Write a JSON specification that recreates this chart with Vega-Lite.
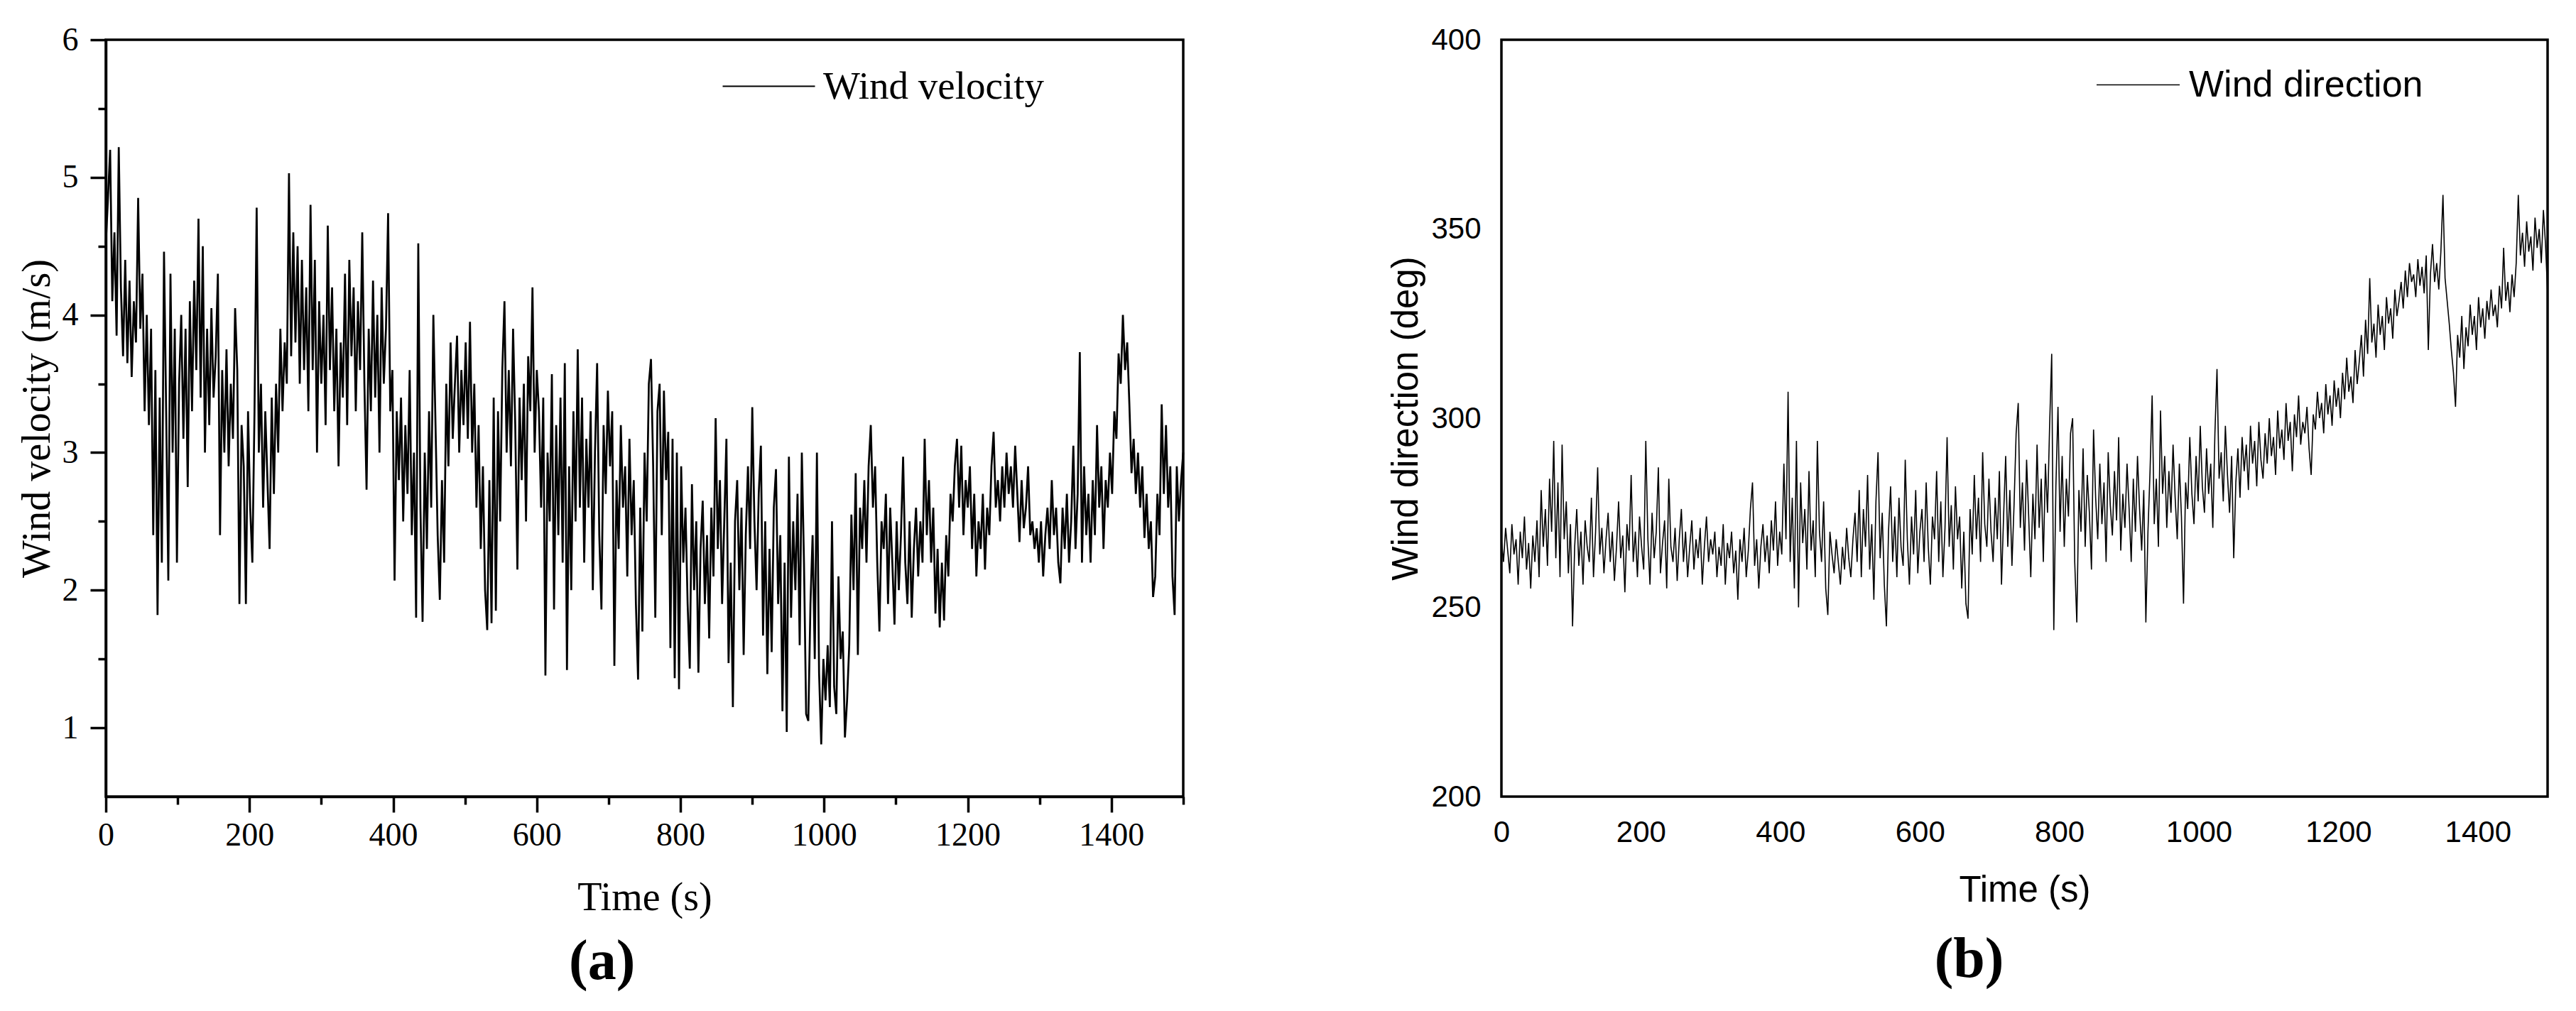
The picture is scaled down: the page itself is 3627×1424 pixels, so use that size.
{
"$schema": "https://vega.github.io/schema/vega-lite/v6.json",
"background": "white",
"padding": {"left": 22, "top": 31, "right": 0, "bottom": 0},
"spacing": 279,
"config": {"view": {"stroke": "black", "strokeWidth": 3.5}},
"datasets": {
"vel": [
{"t":0,"v":4.52},{"t":3,"v":4.85},{"t":6,"v":5.2},{"t":9,"v":4.1},{"t":12,"v":4.6},{"t":15,"v":3.85},{"t":18,"v":5.22},{"t":21,"v":4.2},{"t":24,"v":3.7},{"t":27,"v":4.4},{"t":30,"v":3.65},{"t":33,"v":4.25},{"t":36,"v":3.55},{"t":39,"v":4.1},{"t":42,"v":3.8},{"t":45,"v":4.85},{"t":48,"v":3.9},
{"t":51,"v":4.3},{"t":54,"v":3.3},{"t":57,"v":4.0},{"t":60,"v":3.2},{"t":63,"v":3.9},{"t":66,"v":2.4},{"t":69,"v":3.6},{"t":72,"v":1.82},{"t":75,"v":3.4},{"t":78,"v":2.2},{"t":81,"v":4.46},{"t":84,"v":3.3},{"t":87,"v":2.07},{"t":90,"v":4.3},{"t":93,"v":3.0},{"t":96,"v":3.9},{"t":99,"v":2.2},
{"t":102,"v":3.5},{"t":105,"v":4.0},{"t":108,"v":3.1},{"t":111,"v":3.9},{"t":114,"v":2.75},{"t":117,"v":4.1},{"t":120,"v":3.3},{"t":123,"v":4.25},{"t":126,"v":3.6},{"t":129,"v":4.7},{"t":132,"v":3.4},{"t":135,"v":4.5},{"t":138,"v":3.0},{"t":141,"v":3.9},{"t":144,"v":3.2},{"t":147,"v":4.05},{"t":150,"v":3.4},
{"t":153,"v":3.7},{"t":156,"v":4.3},{"t":159,"v":2.4},{"t":162,"v":3.6},{"t":165,"v":3.0},{"t":168,"v":3.75},{"t":171,"v":2.9},{"t":174,"v":3.5},{"t":177,"v":3.1},{"t":180,"v":4.05},{"t":183,"v":3.6},{"t":186,"v":1.9},{"t":189,"v":3.2},{"t":192,"v":2.9},{"t":195,"v":1.9},{"t":198,"v":3.3},{"t":201,"v":2.6},
{"t":204,"v":2.2},{"t":207,"v":3.3},{"t":210,"v":4.78},{"t":213,"v":3.0},{"t":216,"v":3.5},{"t":219,"v":2.6},{"t":222,"v":3.3},{"t":225,"v":2.8},{"t":228,"v":2.3},{"t":231,"v":3.4},{"t":234,"v":2.7},{"t":237,"v":3.5},{"t":240,"v":3.0},{"t":243,"v":3.9},{"t":246,"v":3.3},{"t":249,"v":3.8},{"t":252,"v":3.5},
{"t":255,"v":5.03},{"t":258,"v":3.7},{"t":261,"v":4.6},{"t":264,"v":3.8},{"t":267,"v":4.5},{"t":270,"v":3.5},{"t":273,"v":4.4},{"t":276,"v":3.6},{"t":279,"v":4.2},{"t":282,"v":3.3},{"t":285,"v":4.8},{"t":288,"v":3.6},{"t":291,"v":4.4},{"t":294,"v":3.0},{"t":297,"v":4.1},{"t":300,"v":3.5},{"t":303,"v":4.0},
{"t":306,"v":3.2},{"t":309,"v":4.65},{"t":312,"v":3.6},{"t":315,"v":4.2},{"t":318,"v":3.3},{"t":321,"v":3.9},{"t":324,"v":2.9},{"t":327,"v":3.8},{"t":330,"v":3.4},{"t":333,"v":4.3},{"t":336,"v":3.2},{"t":339,"v":4.4},{"t":342,"v":3.7},{"t":345,"v":4.2},{"t":348,"v":3.3},{"t":351,"v":4.1},{"t":354,"v":3.6},
{"t":357,"v":4.6},{"t":360,"v":3.5},{"t":363,"v":2.73},{"t":366,"v":3.9},{"t":369,"v":3.3},{"t":372,"v":4.25},{"t":375,"v":3.4},{"t":378,"v":4.0},{"t":381,"v":3.0},{"t":384,"v":4.2},{"t":387,"v":3.5},{"t":390,"v":3.9},{"t":393,"v":4.74},{"t":396,"v":3.3},{"t":399,"v":3.6},{"t":402,"v":2.07},{"t":405,"v":3.3},
{"t":408,"v":2.8},{"t":411,"v":3.4},{"t":414,"v":2.5},{"t":417,"v":3.2},{"t":420,"v":2.7},{"t":423,"v":3.6},{"t":426,"v":2.4},{"t":429,"v":3.0},{"t":432,"v":1.8},{"t":435,"v":4.52},{"t":438,"v":2.6},{"t":441,"v":1.77},{"t":444,"v":3.0},{"t":447,"v":2.3},{"t":450,"v":3.3},{"t":453,"v":2.6},{"t":456,"v":4.0},
{"t":459,"v":3.2},{"t":462,"v":2.4},{"t":465,"v":1.93},{"t":468,"v":2.8},{"t":471,"v":2.2},{"t":474,"v":3.5},{"t":477,"v":2.9},{"t":480,"v":3.8},{"t":483,"v":3.1},{"t":486,"v":3.5},{"t":489,"v":3.85},{"t":492,"v":3.0},{"t":495,"v":3.6},{"t":498,"v":3.2},{"t":501,"v":3.8},{"t":504,"v":3.1},{"t":507,"v":3.95},
{"t":510,"v":3.0},{"t":513,"v":3.5},{"t":516,"v":2.6},{"t":519,"v":3.2},{"t":522,"v":2.3},{"t":525,"v":2.9},{"t":528,"v":2.0},{"t":531,"v":1.71},{"t":534,"v":2.8},{"t":537,"v":1.76},{"t":540,"v":3.4},{"t":543,"v":1.85},{"t":546,"v":3.3},{"t":549,"v":2.5},{"t":552,"v":3.6},{"t":555,"v":4.1},{"t":558,"v":3.0},
{"t":561,"v":3.6},{"t":564,"v":2.9},{"t":567,"v":3.9},{"t":570,"v":3.2},{"t":573,"v":2.15},{"t":576,"v":3.4},{"t":579,"v":2.8},{"t":582,"v":3.5},{"t":585,"v":2.5},{"t":588,"v":3.7},{"t":591,"v":3.3},{"t":594,"v":4.2},{"t":597,"v":3.0},{"t":600,"v":3.6},{"t":603,"v":3.3},{"t":606,"v":2.6},{"t":609,"v":3.4},
{"t":612,"v":1.38},{"t":615,"v":3.0},{"t":618,"v":2.5},{"t":621,"v":3.57},{"t":624,"v":1.86},{"t":627,"v":3.2},{"t":630,"v":2.4},{"t":633,"v":3.4},{"t":636,"v":2.2},{"t":639,"v":3.65},{"t":642,"v":1.42},{"t":645,"v":2.9},{"t":648,"v":2.0},{"t":651,"v":3.3},{"t":654,"v":2.5},{"t":657,"v":3.75},{"t":660,"v":2.6},
{"t":663,"v":3.4},{"t":666,"v":2.2},{"t":669,"v":3.1},{"t":672,"v":2.6},{"t":675,"v":3.3},{"t":678,"v":2.0},{"t":681,"v":3.0},{"t":684,"v":3.65},{"t":687,"v":2.4},{"t":690,"v":1.86},{"t":693,"v":3.2},{"t":696,"v":2.7},{"t":699,"v":3.45},{"t":702,"v":2.9},{"t":705,"v":3.3},{"t":708,"v":1.45},{"t":711,"v":2.8},
{"t":714,"v":2.3},{"t":717,"v":3.2},{"t":720,"v":2.6},{"t":723,"v":2.9},{"t":726,"v":2.1},{"t":729,"v":3.1},{"t":732,"v":2.4},{"t":735,"v":2.8},{"t":738,"v":1.9},{"t":741,"v":1.35},{"t":744,"v":2.6},{"t":747,"v":1.7},{"t":750,"v":3.0},{"t":753,"v":2.5},{"t":756,"v":3.5},{"t":759,"v":3.68},{"t":762,"v":2.9},
{"t":765,"v":1.8},{"t":768,"v":3.3},{"t":771,"v":3.5},{"t":774,"v":2.4},{"t":777,"v":3.45},{"t":780,"v":2.8},{"t":783,"v":3.15},{"t":786,"v":1.58},{"t":789,"v":3.1},{"t":792,"v":1.36},{"t":795,"v":3.0},{"t":798,"v":1.28},{"t":801,"v":2.9},{"t":804,"v":2.2},{"t":807,"v":2.6},{"t":810,"v":1.9},{"t":813,"v":1.43},{"t":816,"v":2.77},{"t":819,"v":2.0},{"t":822,"v":2.5},{"t":825,"v":1.4},{"t":828,"v":2.3},{"t":831,"v":2.65},{"t":834,"v":1.9},{"t":837,"v":2.4},{"t":840,"v":1.65},{"t":843,"v":2.6},{"t":846,"v":2.1},{"t":849,"v":3.25},{"t":852,"v":2.3},{"t":855,"v":2.8},{"t":858,"v":1.9},{"t":861,"v":2.5},{"t":864,"v":3.1},{"t":867,"v":1.47},{"t":870,"v":2.2},{"t":873,"v":1.15},{"t":876,"v":2.5},{"t":879,"v":2.8},{"t":882,"v":2.0},{"t":885,"v":2.6},{"t":888,"v":1.53},{"t":891,"v":2.4},{"t":894,"v":2.9},{"t":897,"v":2.3},{"t":900,"v":3.33},
{"t":903,"v":2.5},{"t":906,"v":2.0},{"t":909,"v":2.7},{"t":912,"v":3.05},{"t":915,"v":1.67},{"t":918,"v":2.5},{"t":921,"v":1.39},{"t":924,"v":2.3},{"t":927,"v":1.55},{"t":930,"v":2.6},{"t":933,"v":2.88},{"t":936,"v":1.9},{"t":939,"v":2.4},{"t":942,"v":1.12},{"t":945,"v":2.2},{"t":948,"v":0.97},{"t":951,"v":2.97},{"t":954,"v":1.8},{"t":957,"v":2.5},{"t":960,"v":2.0},{"t":963,"v":2.7},{"t":966,"v":1.6},{"t":969,"v":3.0},{"t":972,"v":2.2},{"t":975,"v":1.1},{"t":978,"v":1.05},{"t":981,"v":1.9},{"t":984,"v":2.4},{"t":987,"v":1.5},{"t":990,"v":3.0},{"t":993,"v":1.4},{"t":996,"v":0.88},{"t":999,"v":1.5},{"t":1002,"v":1.2},{"t":1005,"v":1.6},{"t":1008,"v":1.15},{"t":1011,"v":2.5},{"t":1014,"v":1.3},{"t":1017,"v":1.1},{"t":1020,"v":2.1},{"t":1023,"v":1.5},{"t":1026,"v":1.7},{"t":1029,"v":0.93},{"t":1032,"v":1.2},{"t":1035,"v":1.6},{"t":1038,"v":2.55},{"t":1041,"v":2.0},{"t":1044,"v":2.85},{"t":1047,"v":1.53},{"t":1050,"v":2.6},
{"t":1053,"v":2.3},{"t":1056,"v":2.8},{"t":1059,"v":2.2},{"t":1062,"v":2.9},{"t":1065,"v":3.2},{"t":1068,"v":2.6},{"t":1071,"v":2.9},{"t":1074,"v":2.2},{"t":1077,"v":1.7},{"t":1080,"v":2.5},{"t":1083,"v":2.3},{"t":1086,"v":2.7},{"t":1089,"v":1.9},{"t":1092,"v":2.6},{"t":1095,"v":2.2},{"t":1098,"v":1.75},{"t":1101,"v":2.5},{"t":1104,"v":2.0},{"t":1107,"v":2.4},{"t":1110,"v":2.97},{"t":1113,"v":2.2},{"t":1116,"v":1.9},{"t":1119,"v":2.5},{"t":1122,"v":1.8},{"t":1125,"v":2.3},{"t":1128,"v":2.6},{"t":1131,"v":2.1},{"t":1134,"v":2.5},{"t":1137,"v":2.2},{"t":1140,"v":3.1},{"t":1143,"v":2.4},{"t":1146,"v":2.8},{"t":1149,"v":2.2},{"t":1152,"v":2.6},{"t":1155,"v":1.83},{"t":1158,"v":2.3},{"t":1161,"v":1.73},{"t":1164,"v":2.2},{"t":1167,"v":1.78},{"t":1170,"v":2.4},{"t":1173,"v":2.1},{"t":1176,"v":2.7},{"t":1179,"v":2.5},{"t":1182,"v":2.9},{"t":1185,"v":3.1},{"t":1188,"v":2.6},{"t":1191,"v":3.05},{"t":1194,"v":2.4},{"t":1197,"v":2.8},{"t":1200,"v":2.6},
{"t":1203,"v":2.9},{"t":1206,"v":2.3},{"t":1209,"v":2.7},{"t":1212,"v":2.1},{"t":1215,"v":2.5},{"t":1218,"v":2.3},{"t":1221,"v":2.7},{"t":1224,"v":2.15},{"t":1227,"v":2.6},{"t":1230,"v":2.4},{"t":1233,"v":2.9},{"t":1236,"v":3.15},{"t":1239,"v":2.6},{"t":1242,"v":2.8},{"t":1245,"v":2.5},{"t":1248,"v":2.9},{"t":1251,"v":2.6},{"t":1254,"v":3.0},{"t":1257,"v":2.7},{"t":1260,"v":2.9},{"t":1263,"v":2.6},{"t":1266,"v":3.05},{"t":1269,"v":2.7},{"t":1272,"v":2.35},{"t":1275,"v":2.8},{"t":1278,"v":2.45},{"t":1281,"v":2.6},{"t":1284,"v":2.9},{"t":1287,"v":2.4},{"t":1290,"v":2.5},{"t":1293,"v":2.3},{"t":1296,"v":2.45},{"t":1299,"v":2.2},{"t":1302,"v":2.5},{"t":1305,"v":2.1},{"t":1308,"v":2.4},{"t":1311,"v":2.6},{"t":1314,"v":2.3},{"t":1317,"v":2.8},{"t":1320,"v":2.4},{"t":1323,"v":2.6},{"t":1326,"v":2.2},{"t":1329,"v":2.05},{"t":1332,"v":2.6},{"t":1335,"v":2.3},{"t":1338,"v":2.7},{"t":1341,"v":2.2},{"t":1344,"v":2.5},{"t":1347,"v":3.05},{"t":1350,"v":2.3},
{"t":1353,"v":2.7},{"t":1356,"v":3.73},{"t":1359,"v":2.2},{"t":1362,"v":2.9},{"t":1365,"v":2.4},{"t":1368,"v":2.7},{"t":1371,"v":2.2},{"t":1374,"v":2.8},{"t":1377,"v":2.4},{"t":1380,"v":3.2},{"t":1383,"v":2.6},{"t":1386,"v":2.9},{"t":1389,"v":2.3},{"t":1392,"v":2.8},{"t":1395,"v":2.6},{"t":1398,"v":3.0},{"t":1401,"v":2.7},{"t":1404,"v":3.3},{"t":1407,"v":3.1},{"t":1410,"v":3.72},{"t":1413,"v":3.5},{"t":1416,"v":4.0},{"t":1419,"v":3.6},{"t":1422,"v":3.8},{"t":1425,"v":3.35},{"t":1428,"v":2.85},{"t":1431,"v":3.1},{"t":1434,"v":2.7},{"t":1437,"v":3.0},{"t":1440,"v":2.6},{"t":1443,"v":2.9},{"t":1446,"v":2.38},{"t":1449,"v":2.7},{"t":1452,"v":2.3},{"t":1455,"v":2.5},{"t":1458,"v":1.95},{"t":1461,"v":2.1},{"t":1464,"v":2.7},{"t":1467,"v":2.4},{"t":1470,"v":3.35},{"t":1473,"v":2.7},{"t":1476,"v":3.2},{"t":1479,"v":2.6},{"t":1482,"v":2.9},{"t":1485,"v":2.1},{"t":1488,"v":1.82},{"t":1491,"v":2.9},{"t":1494,"v":2.5},{"t":1497,"v":2.8},{"t":1500,"v":3.0}
],
"dir": [
{"t":0,"d":268},{"t":3,"d":262},{"t":6,"d":271},{"t":9,"d":265},{"t":12,"d":259},{"t":15,"d":272},{"t":18,"d":264},{"t":21,"d":268},{"t":24,"d":256},{"t":27,"d":270},{"t":30,"d":263},{"t":33,"d":274},{"t":36,"d":260},{"t":39,"d":267},{"t":42,"d":255},{"t":45,"d":269},{"t":48,"d":262},{"t":51,"d":273},{"t":54,"d":258},{"t":57,"d":281},{"t":60,"d":266},{"t":63,"d":276},{"t":66,"d":261},{"t":69,"d":284},{"t":72,"d":270},{"t":75,"d":294},{"t":78,"d":263},{"t":81,"d":283},{"t":84,"d":258},{"t":87,"d":293},{"t":90,"d":268},{"t":93,"d":278},{"t":96,"d":259},{"t":99,"d":272},{"t":102,"d":245},{"t":105,"d":266},{"t":108,"d":276},{"t":111,"d":261},{"t":114,"d":270},{"t":117,"d":256},{"t":120,"d":273},{"t":123,"d":266},{"t":126,"d":262},{"t":129,"d":279},{"t":132,"d":258},{"t":135,"d":270},{"t":138,"d":287},{"t":141,"d":264},{"t":144,"d":271},{"t":147,"d":259},{"t":150,"d":268},
{"t":153,"d":275},{"t":156,"d":262},{"t":159,"d":270},{"t":162,"d":257},{"t":165,"d":266},{"t":168,"d":278},{"t":171,"d":263},{"t":174,"d":269},{"t":177,"d":254},{"t":180,"d":272},{"t":183,"d":265},{"t":186,"d":285},{"t":189,"d":262},{"t":192,"d":270},{"t":195,"d":258},{"t":198,"d":274},{"t":201,"d":266},{"t":204,"d":260},{"t":207,"d":294},{"t":210,"d":268},{"t":213,"d":256},{"t":216,"d":275},{"t":219,"d":263},{"t":222,"d":270},{"t":225,"d":287},{"t":228,"d":259},{"t":231,"d":267},{"t":234,"d":273},{"t":237,"d":255},{"t":240,"d":284},{"t":243,"d":266},{"t":246,"d":262},{"t":249,"d":271},{"t":252,"d":257},{"t":255,"d":268},{"t":258,"d":276},{"t":261,"d":262},{"t":264,"d":270},{"t":267,"d":258},{"t":270,"d":266},{"t":273,"d":273},{"t":276,"d":260},{"t":279,"d":268},{"t":282,"d":263},{"t":285,"d":271},{"t":288,"d":256},{"t":291,"d":266},{"t":294,"d":274},{"t":297,"d":262},{"t":300,"d":268},
{"t":303,"d":264},{"t":306,"d":270},{"t":309,"d":258},{"t":312,"d":266},{"t":315,"d":261},{"t":318,"d":272},{"t":321,"d":256},{"t":324,"d":267},{"t":327,"d":263},{"t":330,"d":270},{"t":333,"d":259},{"t":336,"d":265},{"t":339,"d":252},{"t":342,"d":268},{"t":345,"d":262},{"t":348,"d":271},{"t":351,"d":258},{"t":354,"d":265},{"t":357,"d":276},{"t":360,"d":283},{"t":363,"d":261},{"t":366,"d":268},{"t":369,"d":255},{"t":372,"d":266},{"t":375,"d":272},{"t":378,"d":262},{"t":381,"d":269},{"t":384,"d":259},{"t":387,"d":273},{"t":390,"d":265},{"t":393,"d":278},{"t":396,"d":261},{"t":399,"d":270},{"t":402,"d":264},{"t":405,"d":288},{"t":408,"d":268},{"t":411,"d":307},{"t":414,"d":262},{"t":417,"d":279},{"t":420,"d":255},{"t":423,"d":294},{"t":426,"d":250},{"t":429,"d":283},{"t":432,"d":267},{"t":435,"d":276},{"t":438,"d":260},{"t":441,"d":286},{"t":444,"d":265},{"t":447,"d":273},{"t":450,"d":258},
{"t":453,"d":294},{"t":456,"d":270},{"t":459,"d":262},{"t":462,"d":278},{"t":465,"d":255},{"t":468,"d":248},{"t":471,"d":270},{"t":474,"d":264},{"t":477,"d":259},{"t":480,"d":268},{"t":483,"d":262},{"t":486,"d":256},{"t":489,"d":266},{"t":492,"d":260},{"t":495,"d":271},{"t":498,"d":263},{"t":501,"d":258},{"t":504,"d":268},{"t":507,"d":275},{"t":510,"d":262},{"t":513,"d":281},{"t":516,"d":258},{"t":519,"d":276},{"t":522,"d":266},{"t":525,"d":285},{"t":528,"d":260},{"t":531,"d":272},{"t":534,"d":252},{"t":537,"d":278},{"t":540,"d":291},{"t":543,"d":263},{"t":546,"d":275},{"t":549,"d":256},{"t":552,"d":245},{"t":555,"d":270},{"t":558,"d":282},{"t":561,"d":262},{"t":564,"d":274},{"t":567,"d":258},{"t":570,"d":279},{"t":573,"d":266},{"t":576,"d":261},{"t":579,"d":289},{"t":582,"d":268},{"t":585,"d":256},{"t":588,"d":274},{"t":591,"d":264},{"t":594,"d":281},{"t":597,"d":259},{"t":600,"d":270},
{"t":603,"d":276},{"t":606,"d":262},{"t":609,"d":283},{"t":612,"d":266},{"t":615,"d":256},{"t":618,"d":274},{"t":621,"d":268},{"t":624,"d":286},{"t":627,"d":262},{"t":630,"d":278},{"t":633,"d":258},{"t":636,"d":271},{"t":639,"d":295},{"t":642,"d":266},{"t":645,"d":277},{"t":648,"d":260},{"t":651,"d":282},{"t":654,"d":268},{"t":657,"d":274},{"t":660,"d":255},{"t":663,"d":270},{"t":666,"d":251},{"t":669,"d":247},{"t":672,"d":276},{"t":675,"d":264},{"t":678,"d":285},{"t":681,"d":268},{"t":684,"d":279},{"t":687,"d":262},{"t":690,"d":291},{"t":693,"d":272},{"t":696,"d":266},{"t":699,"d":284},{"t":702,"d":270},{"t":705,"d":262},{"t":708,"d":279},{"t":711,"d":268},{"t":714,"d":286},{"t":717,"d":256},{"t":720,"d":274},{"t":723,"d":290},{"t":726,"d":266},{"t":729,"d":281},{"t":732,"d":261},{"t":735,"d":277},{"t":738,"d":296},{"t":741,"d":304},{"t":744,"d":271},{"t":747,"d":283},{"t":750,"d":265},
{"t":753,"d":289},{"t":756,"d":274},{"t":759,"d":258},{"t":762,"d":280},{"t":765,"d":268},{"t":768,"d":293},{"t":771,"d":271},{"t":774,"d":284},{"t":777,"d":262},{"t":780,"d":288},{"t":783,"d":275},{"t":786,"d":298},{"t":789,"d":317},{"t":792,"d":244},{"t":795,"d":282},{"t":798,"d":303},{"t":801,"d":270},{"t":804,"d":290},{"t":807,"d":266},{"t":810,"d":284},{"t":813,"d":274},{"t":816,"d":296},{"t":819,"d":300},{"t":822,"d":262},{"t":825,"d":246},{"t":828,"d":281},{"t":831,"d":270},{"t":834,"d":292},{"t":837,"d":266},{"t":840,"d":285},{"t":843,"d":275},{"t":846,"d":260},{"t":849,"d":297},{"t":852,"d":279},{"t":855,"d":268},{"t":858,"d":288},{"t":861,"d":272},{"t":864,"d":283},{"t":867,"d":262},{"t":870,"d":291},{"t":873,"d":277},{"t":876,"d":269},{"t":879,"d":286},{"t":882,"d":273},{"t":885,"d":295},{"t":888,"d":265},{"t":891,"d":280},{"t":894,"d":271},{"t":897,"d":288},{"t":900,"d":276},
{"t":903,"d":262},{"t":906,"d":284},{"t":909,"d":270},{"t":912,"d":290},{"t":915,"d":276},{"t":918,"d":265},{"t":921,"d":281},{"t":924,"d":246},{"t":927,"d":270},{"t":930,"d":286},{"t":933,"d":306},{"t":936,"d":272},{"t":939,"d":284},{"t":942,"d":266},{"t":945,"d":302},{"t":948,"d":280},{"t":951,"d":290},{"t":954,"d":271},{"t":957,"d":286},{"t":960,"d":275},{"t":963,"d":293},{"t":966,"d":279},{"t":969,"d":268},{"t":972,"d":288},{"t":975,"d":274},{"t":978,"d":251},{"t":981,"d":283},{"t":984,"d":276},{"t":987,"d":295},{"t":990,"d":280},{"t":993,"d":272},{"t":996,"d":290},{"t":999,"d":278},{"t":1002,"d":298},{"t":1005,"d":282},{"t":1008,"d":275},{"t":1011,"d":292},{"t":1014,"d":280},{"t":1017,"d":288},{"t":1020,"d":271},{"t":1023,"d":296},{"t":1026,"d":313},{"t":1029,"d":284},{"t":1032,"d":291},{"t":1035,"d":278},{"t":1038,"d":298},{"t":1041,"d":285},{"t":1044,"d":275},{"t":1047,"d":290},{"t":1050,"d":263},
{"t":1053,"d":283},{"t":1056,"d":292},{"t":1059,"d":279},{"t":1062,"d":295},{"t":1065,"d":286},{"t":1068,"d":293},{"t":1071,"d":281},{"t":1074,"d":298},{"t":1077,"d":288},{"t":1080,"d":294},{"t":1083,"d":282},{"t":1086,"d":299},{"t":1089,"d":289},{"t":1092,"d":284},{"t":1095,"d":296},{"t":1098,"d":288},{"t":1101,"d":300},{"t":1104,"d":290},{"t":1107,"d":295},{"t":1110,"d":285},{"t":1113,"d":302},{"t":1116,"d":292},{"t":1119,"d":297},{"t":1122,"d":289},{"t":1125,"d":304},{"t":1128,"d":294},{"t":1131,"d":299},{"t":1134,"d":286},{"t":1137,"d":301},{"t":1140,"d":295},{"t":1143,"d":306},{"t":1146,"d":293},{"t":1149,"d":299},{"t":1152,"d":296},{"t":1155,"d":303},{"t":1158,"d":292},{"t":1161,"d":285},{"t":1164,"d":301},{"t":1167,"d":297},{"t":1170,"d":307},{"t":1173,"d":300},{"t":1176,"d":304},{"t":1179,"d":296},{"t":1182,"d":309},{"t":1185,"d":301},{"t":1188,"d":306},{"t":1191,"d":298},{"t":1194,"d":310},{"t":1197,"d":303},{"t":1200,"d":308},
{"t":1203,"d":300},{"t":1206,"d":312},{"t":1209,"d":305},{"t":1212,"d":316},{"t":1215,"d":307},{"t":1218,"d":311},{"t":1221,"d":304},{"t":1224,"d":318},{"t":1227,"d":309},{"t":1230,"d":315},{"t":1233,"d":322},{"t":1236,"d":311},{"t":1239,"d":326},{"t":1242,"d":317},{"t":1245,"d":337},{"t":1248,"d":320},{"t":1251,"d":325},{"t":1254,"d":316},{"t":1257,"d":330},{"t":1260,"d":322},{"t":1263,"d":327},{"t":1266,"d":318},{"t":1269,"d":332},{"t":1272,"d":325},{"t":1275,"d":329},{"t":1278,"d":321},{"t":1281,"d":334},{"t":1284,"d":327},{"t":1287,"d":331},{"t":1290,"d":336},{"t":1293,"d":329},{"t":1296,"d":339},{"t":1299,"d":332},{"t":1302,"d":341},{"t":1305,"d":336},{"t":1308,"d":338},{"t":1311,"d":332},{"t":1314,"d":342},{"t":1317,"d":335},{"t":1320,"d":340},{"t":1323,"d":333},{"t":1326,"d":343},{"t":1329,"d":318},{"t":1332,"d":338},{"t":1335,"d":346},{"t":1338,"d":336},{"t":1341,"d":341},{"t":1344,"d":334},{"t":1347,"d":344},{"t":1350,"d":359},
{"t":1353,"d":337},{"t":1356,"d":331},{"t":1359,"d":325},{"t":1362,"d":318},{"t":1365,"d":312},{"t":1368,"d":303},{"t":1371,"d":322},{"t":1374,"d":316},{"t":1377,"d":327},{"t":1380,"d":313},{"t":1383,"d":324},{"t":1386,"d":319},{"t":1389,"d":330},{"t":1392,"d":322},{"t":1395,"d":327},{"t":1398,"d":318},{"t":1401,"d":332},{"t":1404,"d":324},{"t":1407,"d":329},{"t":1410,"d":321},{"t":1413,"d":331},{"t":1416,"d":326},{"t":1419,"d":334},{"t":1422,"d":327},{"t":1425,"d":330},{"t":1428,"d":324},{"t":1431,"d":335},{"t":1434,"d":329},{"t":1437,"d":345},{"t":1440,"d":331},{"t":1443,"d":336},{"t":1446,"d":328},{"t":1449,"d":338},{"t":1452,"d":332},{"t":1455,"d":341},{"t":1458,"d":359},{"t":1461,"d":343},{"t":1464,"d":349},{"t":1467,"d":340},{"t":1470,"d":352},{"t":1473,"d":344},{"t":1476,"d":348},{"t":1479,"d":339},{"t":1482,"d":353},{"t":1485,"d":345},{"t":1488,"d":350},{"t":1491,"d":341},{"t":1494,"d":355},{"t":1497,"d":346},{"t":1500,"d":333}
]
},
"hconcat": [
{
"width": 1517, "height": 1066,
"data": {"name": "vel"},
"title": {"text": "(a)", "orient": "bottom", "anchor": "middle", "frame": "bounds", "font": "Liberation Serif", "fontSize": 80, "fontWeight": "bold", "color": "black", "offset": 24},
"mark": {"type": "line", "color": "black", "strokeWidth": 2.7, "strokeJoin": "miter"},
"encoding": {
"x": {"field": "t", "type": "quantitative", "scale": {"domain": [0, 1500], "nice": false, "zero": false},
 "axis": {"title": "Time (s)", "format": "d", "values": [0,100,200,300,400,500,600,700,800,900,1000,1100,1200,1300,1400,1500],
  "labelExpr": "datum.value % 200 === 0 ? datum.label : ''",
  "tickSize": {"condition": {"test": "datum.value % 200 === 0", "value": 22}, "value": 11},
  "tickWidth": 3.5, "tickColor": "black", "domainColor": "black", "domainWidth": 3.5, "grid": false,
  "labelFont": "Liberation Serif", "labelFontSize": 46, "labelColor": "black", "labelPadding": 10, "labelFlush": false, "labelOverlap": false,
  "titleFont": "Liberation Serif", "titleFontSize": 56, "titleFontWeight": "normal", "titleColor": "black", "titlePadding": 38}},
"y": {"field": "v", "type": "quantitative", "scale": {"domain": [0.5, 6], "nice": false, "zero": false},
 "axis": {"title": "Wind velocity (m/s)", "format": "~g", "values": [1,1.5,2,2.5,3,3.5,4,4.5,5,5.5,6],
  "labelExpr": "datum.value % 1 === 0 ? datum.label : ''",
  "tickSize": {"condition": {"test": "datum.value % 1 === 0", "value": 22}, "value": 11},
  "tickWidth": 3.5, "tickColor": "black", "domainColor": "black", "domainWidth": 3.5, "grid": false,
  "labelFont": "Liberation Serif", "labelFontSize": 46, "labelColor": "black", "labelPadding": 17, "labelFlush": false, "labelOverlap": false,
  "titleFont": "Liberation Serif", "titleFontSize": 56, "titleFontWeight": "normal", "titleColor": "black", "titlePadding": 6}},
"color": {"datum": "Wind velocity", "type": "nominal", "scale": {"range": ["black"]},
 "legend": {"title": null, "orient": "none", "legendX": 867, "legendY": -1, "padding": 0, "symbolType": "stroke", "symbolSize": 16900, "symbolStrokeWidth": 2.2, "symbolStrokeColor": "black", "labelFont": "Liberation Serif", "labelFontSize": 55, "labelColor": "black", "labelOffset": 10, "labelLimit": 800}}
}
},
{
"width": 1473, "height": 1066,
"data": {"name": "dir"},
"title": {"text": "(b)", "orient": "bottom", "anchor": "middle", "frame": "bounds", "font": "Liberation Serif", "fontSize": 80, "fontWeight": "bold", "color": "black", "offset": 34},
"mark": {"type": "line", "color": "black", "strokeWidth": 1.6},
"encoding": {
"x": {"field": "t", "type": "quantitative", "scale": {"domain": [0, 1500], "nice": false, "zero": false},
 "axis": {"title": "Time (s)", "format": "d", "values": [0,200,400,600,800,1000,1200,1400], "ticks": false, "domain": false, "grid": false,
  "labelFont": "Liberation Sans", "labelFontSize": 42, "labelColor": "black", "labelPadding": 30, "labelFlush": false, "labelOverlap": false,
  "titleFont": "Liberation Sans", "titleFontSize": 51, "titleFontWeight": "normal", "titleColor": "black", "titlePadding": 36}},
"y": {"field": "d", "type": "quantitative", "scale": {"domain": [200, 400], "nice": false, "zero": false},
 "axis": {"title": "Wind direction (deg)", "values": [200,250,300,350,400], "ticks": false, "domain": false, "grid": false,
  "labelFont": "Liberation Sans", "labelFontSize": 42, "labelColor": "black", "labelPadding": 29, "labelFlush": false, "labelOverlap": false,
  "titleFont": "Liberation Sans", "titleFontSize": 51, "titleFontWeight": "normal", "titleColor": "black", "titlePadding": 8}},
"color": {"datum": "Wind direction", "type": "nominal", "scale": {"range": ["black"]},
 "legend": {"title": null, "orient": "none", "legendX": 837, "legendY": 4, "padding": 0, "symbolType": "stroke", "symbolSize": 13689, "symbolStrokeWidth": 1.6, "symbolStrokeColor": "#444444", "labelFont": "Liberation Sans", "labelFontSize": 52, "labelColor": "black", "labelOffset": 12, "labelLimit": 800}}
}
}
],
"resolve": {"scale": {"color": "independent"}}
}
